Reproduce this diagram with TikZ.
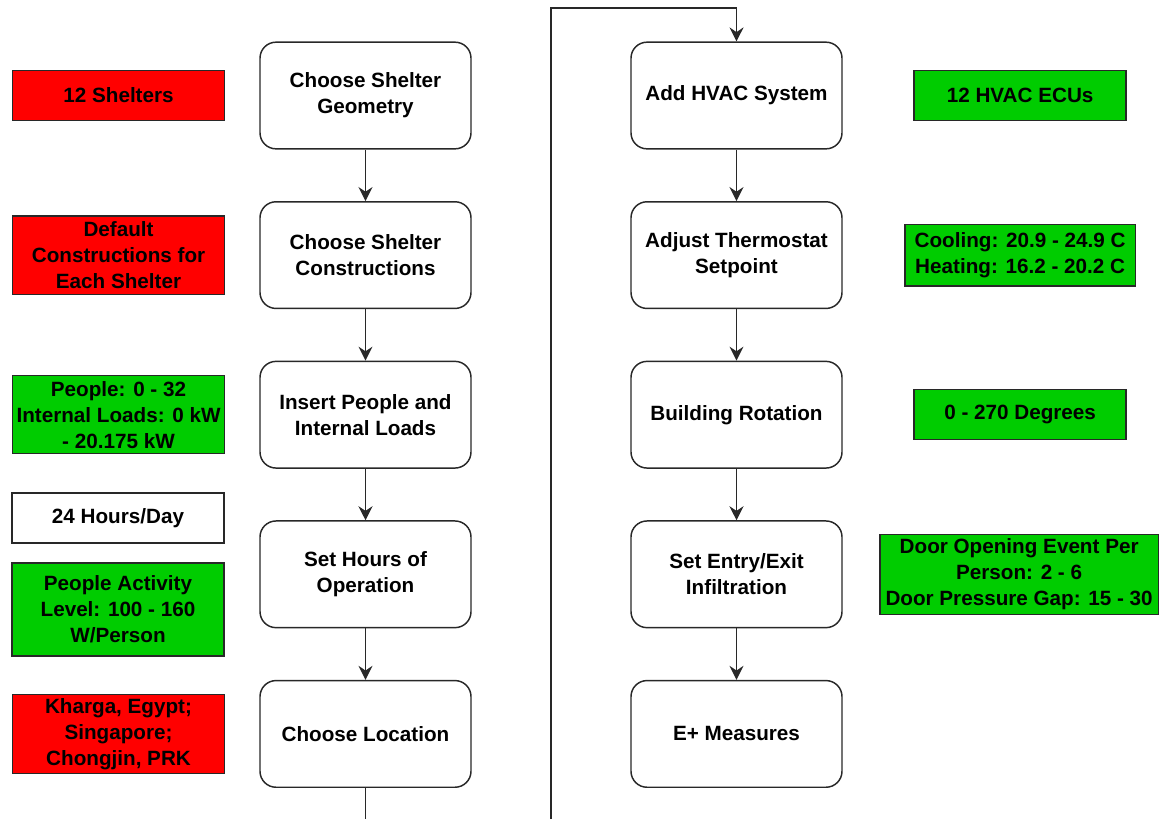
\documentclass[tikz,border=0pt]{standalone}
\usepackage{fontspec}
\setmainfont{Liberation Sans}
\usetikzlibrary{arrows.meta, positioning}
\definecolor{shelterred}{RGB}{255, 0, 0}
\definecolor{ecugreen}{RGB}{0, 204, 0}
\definecolor{edgegray}{RGB}{40, 40, 40}

\begin{document}
\begin{tikzpicture}[
          x=0.75pt, y=-0.75pt,
          node distance=38.6pt,
          stepbox/.style={rectangle, rounded corners=12pt, draw=edgegray, fill=white, line width=1.1pt, minimum width=158.25pt, minimum height=80pt, inner sep=0pt, align=center, font=\fontsize{15.5}{19.5}\selectfont\bfseries},
          infobox/.style={rectangle, draw=edgegray, line width=1.1pt, minimum width=159pt, inner sep=0pt, align=center, font=\fontsize{15.5}{19.5}\selectfont\bfseries},
          arr/.style={-{Stealth[length=10.5pt, width=10.5pt, inset=3.5pt]}, line width=1.1pt, color=edgegray}
        ]
          \useasboundingbox (0,0) rectangle (1160,819);

          % left column of steps
          \node[stepbox] (geom) at (365.5,95.5) {Choose Shelter\\Geometry};
          \node[stepbox, below=of geom] (constr) {Choose Shelter\\Constructions};
          \node[stepbox, below=of constr] (people) {Insert People and\\Internal Loads};
          \node[stepbox, below=of people] (hours) {Set Hours of\\Operation};
          \node[stepbox, below=of hours] (loc) {Choose Location};

          % right column of steps
          \node[stepbox] (hvac) at (736.5,95.5) {Add HVAC System};
          \node[stepbox, below=of hvac] (thermo) {Adjust Thermostat\\Setpoint};
          \node[stepbox, below=of thermo] (rot) {Building Rotation};
          \node[stepbox, below=of rot] (infil) {Set Entry/Exit\\Infiltration};
          \node[stepbox, below=of infil] (eplus) {E+ Measures};

          % parameter boxes
          \node[infobox, fill=shelterred, minimum height=37.5pt, left=25.5pt of geom] (shelters) {12 Shelters};
          \node[infobox, fill=shelterred, minimum height=59pt, left=25.5pt of constr] (defconstr) {Default\\Constructions for\\Each Shelter};
          \node[infobox, fill=ecugreen, minimum height=58.5pt, left=25.5pt of people] (loads) {People: 0 - 32\\Internal Loads: 0 kW\\- 20.175 kW};
          \node[infobox, fill=white, minimum height=37.5pt] (perday) at (118,518) {24 Hours/Day};
          \node[infobox, fill=ecugreen, minimum height=70pt] (activity) at (118,609.5) {People Activity\\Level: 100 - 160\\W/Person};
          \node[infobox, fill=shelterred, minimum height=59pt, left=25.5pt of loc] (cities) {Kharga, Egypt;\\Singapore;\\Chongjin, PRK};

          \node[infobox, fill=ecugreen, minimum height=37.5pt, right=53pt of hvac] (ecus) {12 HVAC ECUs};
          \node[infobox, fill=ecugreen, minimum width=173pt, minimum height=46pt, right=46pt of thermo] (setpts) {Cooling: 20.9 - 24.9 C\\Heating: 16.2 - 20.2 C};
          \node[infobox, fill=ecugreen, minimum height=37.5pt, right=53pt of rot] (degrees) {0 - 270 Degrees};
          \node[infobox, fill=ecugreen, minimum width=209pt, minimum height=60pt, right=27.25pt of infil] (doors) {Door Opening Event Per\\Person: 2 - 6\\Door Pressure Gap: 15 - 30};

          \draw[arr] (geom) -- (constr);
          \draw[arr] (constr) -- (people);
          \draw[arr] (people) -- (hours);
          \draw[arr] (hours) -- (loc);

          \draw[arr] (hvac) -- (thermo);
          \draw[arr] (thermo) -- (rot);
          \draw[arr] (rot) -- (infil);
          \draw[arr] (infil) -- (eplus);

          % loop back to the top of the right column
          \coordinate (locdrop) at (365.5,819);
          \coordinate (risefoot) at (551,819);
          \coordinate (risetop) at (551,8);
          \draw[line width=1.1pt, color=edgegray] (loc) -- (locdrop);
          \draw[arr] (risefoot) -- (risetop) -| (hvac);
        \end{tikzpicture}
\end{document}
